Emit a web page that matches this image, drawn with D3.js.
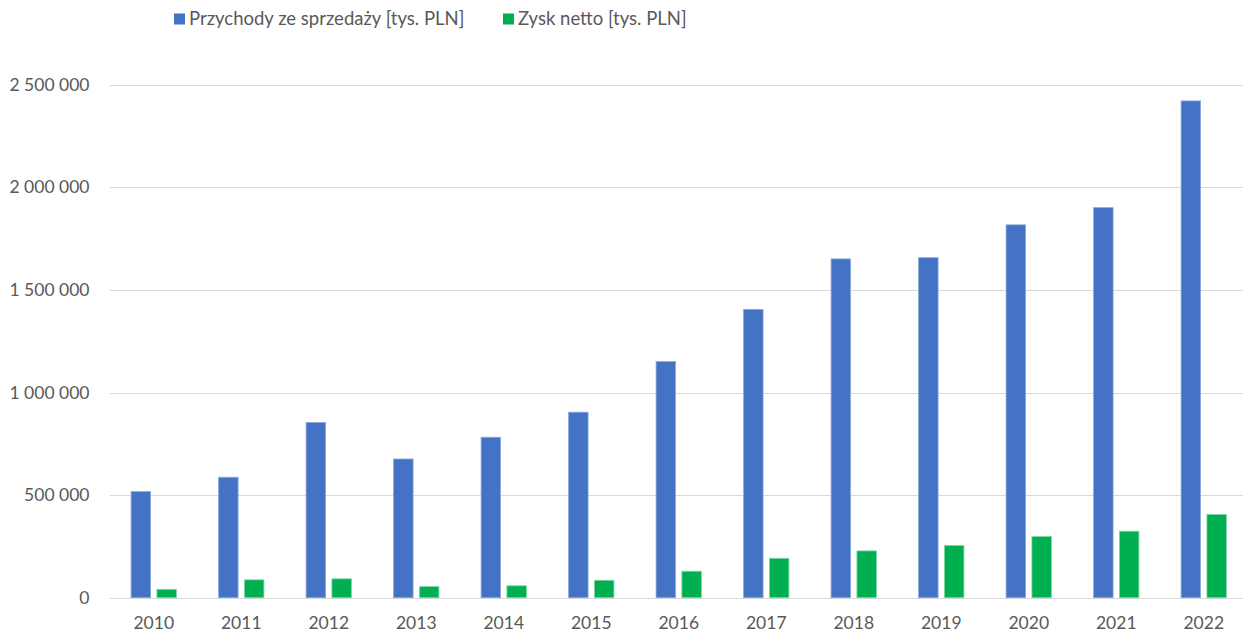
<!DOCTYPE html>
<html lang="pl">
<head>
<meta charset="utf-8">
<script src="https://cdn.jsdelivr.net/npm/d3@7"></script>
<style>
  html, body { margin: 0; padding: 0; background: #ffffff; }
  svg { display: block; font-family: Lato, "Open Sans", "Liberation Sans", sans-serif; }
</style>
</head>
<body>
<svg id="chart" width="1243" height="633"></svg>
<script>
// Years on the category axis
const years = ["2010", "2011", "2012", "2013", "2014", "2015", "2016",
               "2017", "2018", "2019", "2020", "2021", "2022"];
// Sales revenue [thousand PLN]
const revenue = [517000, 587000, 854000, 676000, 782000, 904000, 1151000,
                 1405000, 1651000, 1657000, 1817000, 1901000, 2421000];
// Net profit [thousand PLN]
const netProfit = [41000, 87000, 92000, 54000, 58000, 85000, 129000,
                   192000, 228000, 254000, 298000, 324000, 406000];
// Series names shown in the legend
const seriesNames = ["Przychody ze sprzedaży [tys. PLN]", "Zysk netto [tys. PLN]"];
// Value axis ticks
const yTicks = [0, 500000, 1000000, 1500000, 2000000, 2500000];

const colors = ["#4472C4", "#00B050"];
const strokes = ["#8EA9DB", "#7FD8A8"];
const textColor = "#595959";
const gridColor = "#D9D9D9";

const svg = d3.select("#chart");

const plLocale = d3.formatLocale({ decimal: ",", thousands: "\u00a0", grouping: [3], currency: ["", " zł"] });
const fmt = plLocale.format(",d");

const x0 = d3.scaleBand()
  .domain(years)
  .range([110, 1247.5])
  .paddingInner(0.482)
  .paddingOuter(0.241);

const x1 = d3.scaleBand()
  .domain([0, 1])
  .range([0, x0.bandwidth()])
  .paddingInner(0.244);

const y = d3.scaleLinear()
  .domain([0, 2500000])
  .range([597.7, 84.7]);

// Horizontal gridlines
svg.append("g")
  .selectAll("line")
  .data(yTicks)
  .join("line")
  .attr("x1", 110)
  .attr("x2", 1243)
  .attr("y1", d => Math.round(y(d)) + 0.5)
  .attr("y2", d => Math.round(y(d)) + 0.5)
  .attr("stroke", gridColor)
  .attr("stroke-width", 1.2);

// Value axis labels
const yAxis = d3.axisLeft(y)
  .tickValues(yTicks)
  .tickFormat(fmt)
  .tickSize(0)
  .tickPadding(0);

svg.append("g")
  .attr("transform", "translate(89.5,0)")
  .call(yAxis)
  .call(g => g.select(".domain").remove())
  .call(g => g.selectAll("text")
    .attr("fill", textColor)
    .attr("font-size", "17.5px")
    .attr("font-family", "Lato, 'Open Sans', 'Liberation Sans', sans-serif"));

// Bars
const groups = svg.append("g")
  .selectAll("g")
  .data(years.map((yr, i) => ({ year: yr, values: [revenue[i], netProfit[i]] })))
  .join("g")
  .attr("transform", d => `translate(${x0(d.year)},0)`);

groups.selectAll("rect")
  .data(d => d.values.map((v, k) => ({ k, v })))
  .join("rect")
  .attr("x", d => x1(d.k))
  .attr("width", x1.bandwidth())
  .attr("y", d => y(d.v))
  .attr("height", d => y(0) - y(d.v))
  .attr("fill", d => colors[d.k])
  .attr("stroke", d => strokes[d.k])
  .attr("stroke-width", 0.8);

// Category axis labels
const xAxis = d3.axisBottom(x0)
  .tickSize(0)
  .tickPadding(0);

svg.append("g")
  .attr("transform", "translate(0,617)")
  .call(xAxis)
  .call(g => g.select(".domain").remove())
  .call(g => g.selectAll("text")
    .attr("fill", textColor)
    .attr("font-size", "17.5px")
    .attr("dy", "0.71em")
    .attr("font-family", "Lato, 'Open Sans', 'Liberation Sans', sans-serif"));

// Legend
const legendX = [174, 503];
const legend = svg.append("g")
  .selectAll("g")
  .data(seriesNames)
  .join("g")
  .attr("transform", (d, i) => `translate(${legendX[i]},13.5)`);

legend.append("rect")
  .attr("width", 11)
  .attr("height", 11)
  .attr("fill", (d, i) => colors[i]);

legend.append("text")
  .attr("x", 15)
  .attr("y", 5.5)
  .attr("dy", "0.35em")
  .attr("fill", textColor)
  .attr("font-size", "18.5px")
  .text(d => d);
</script>
</body>
</html>
